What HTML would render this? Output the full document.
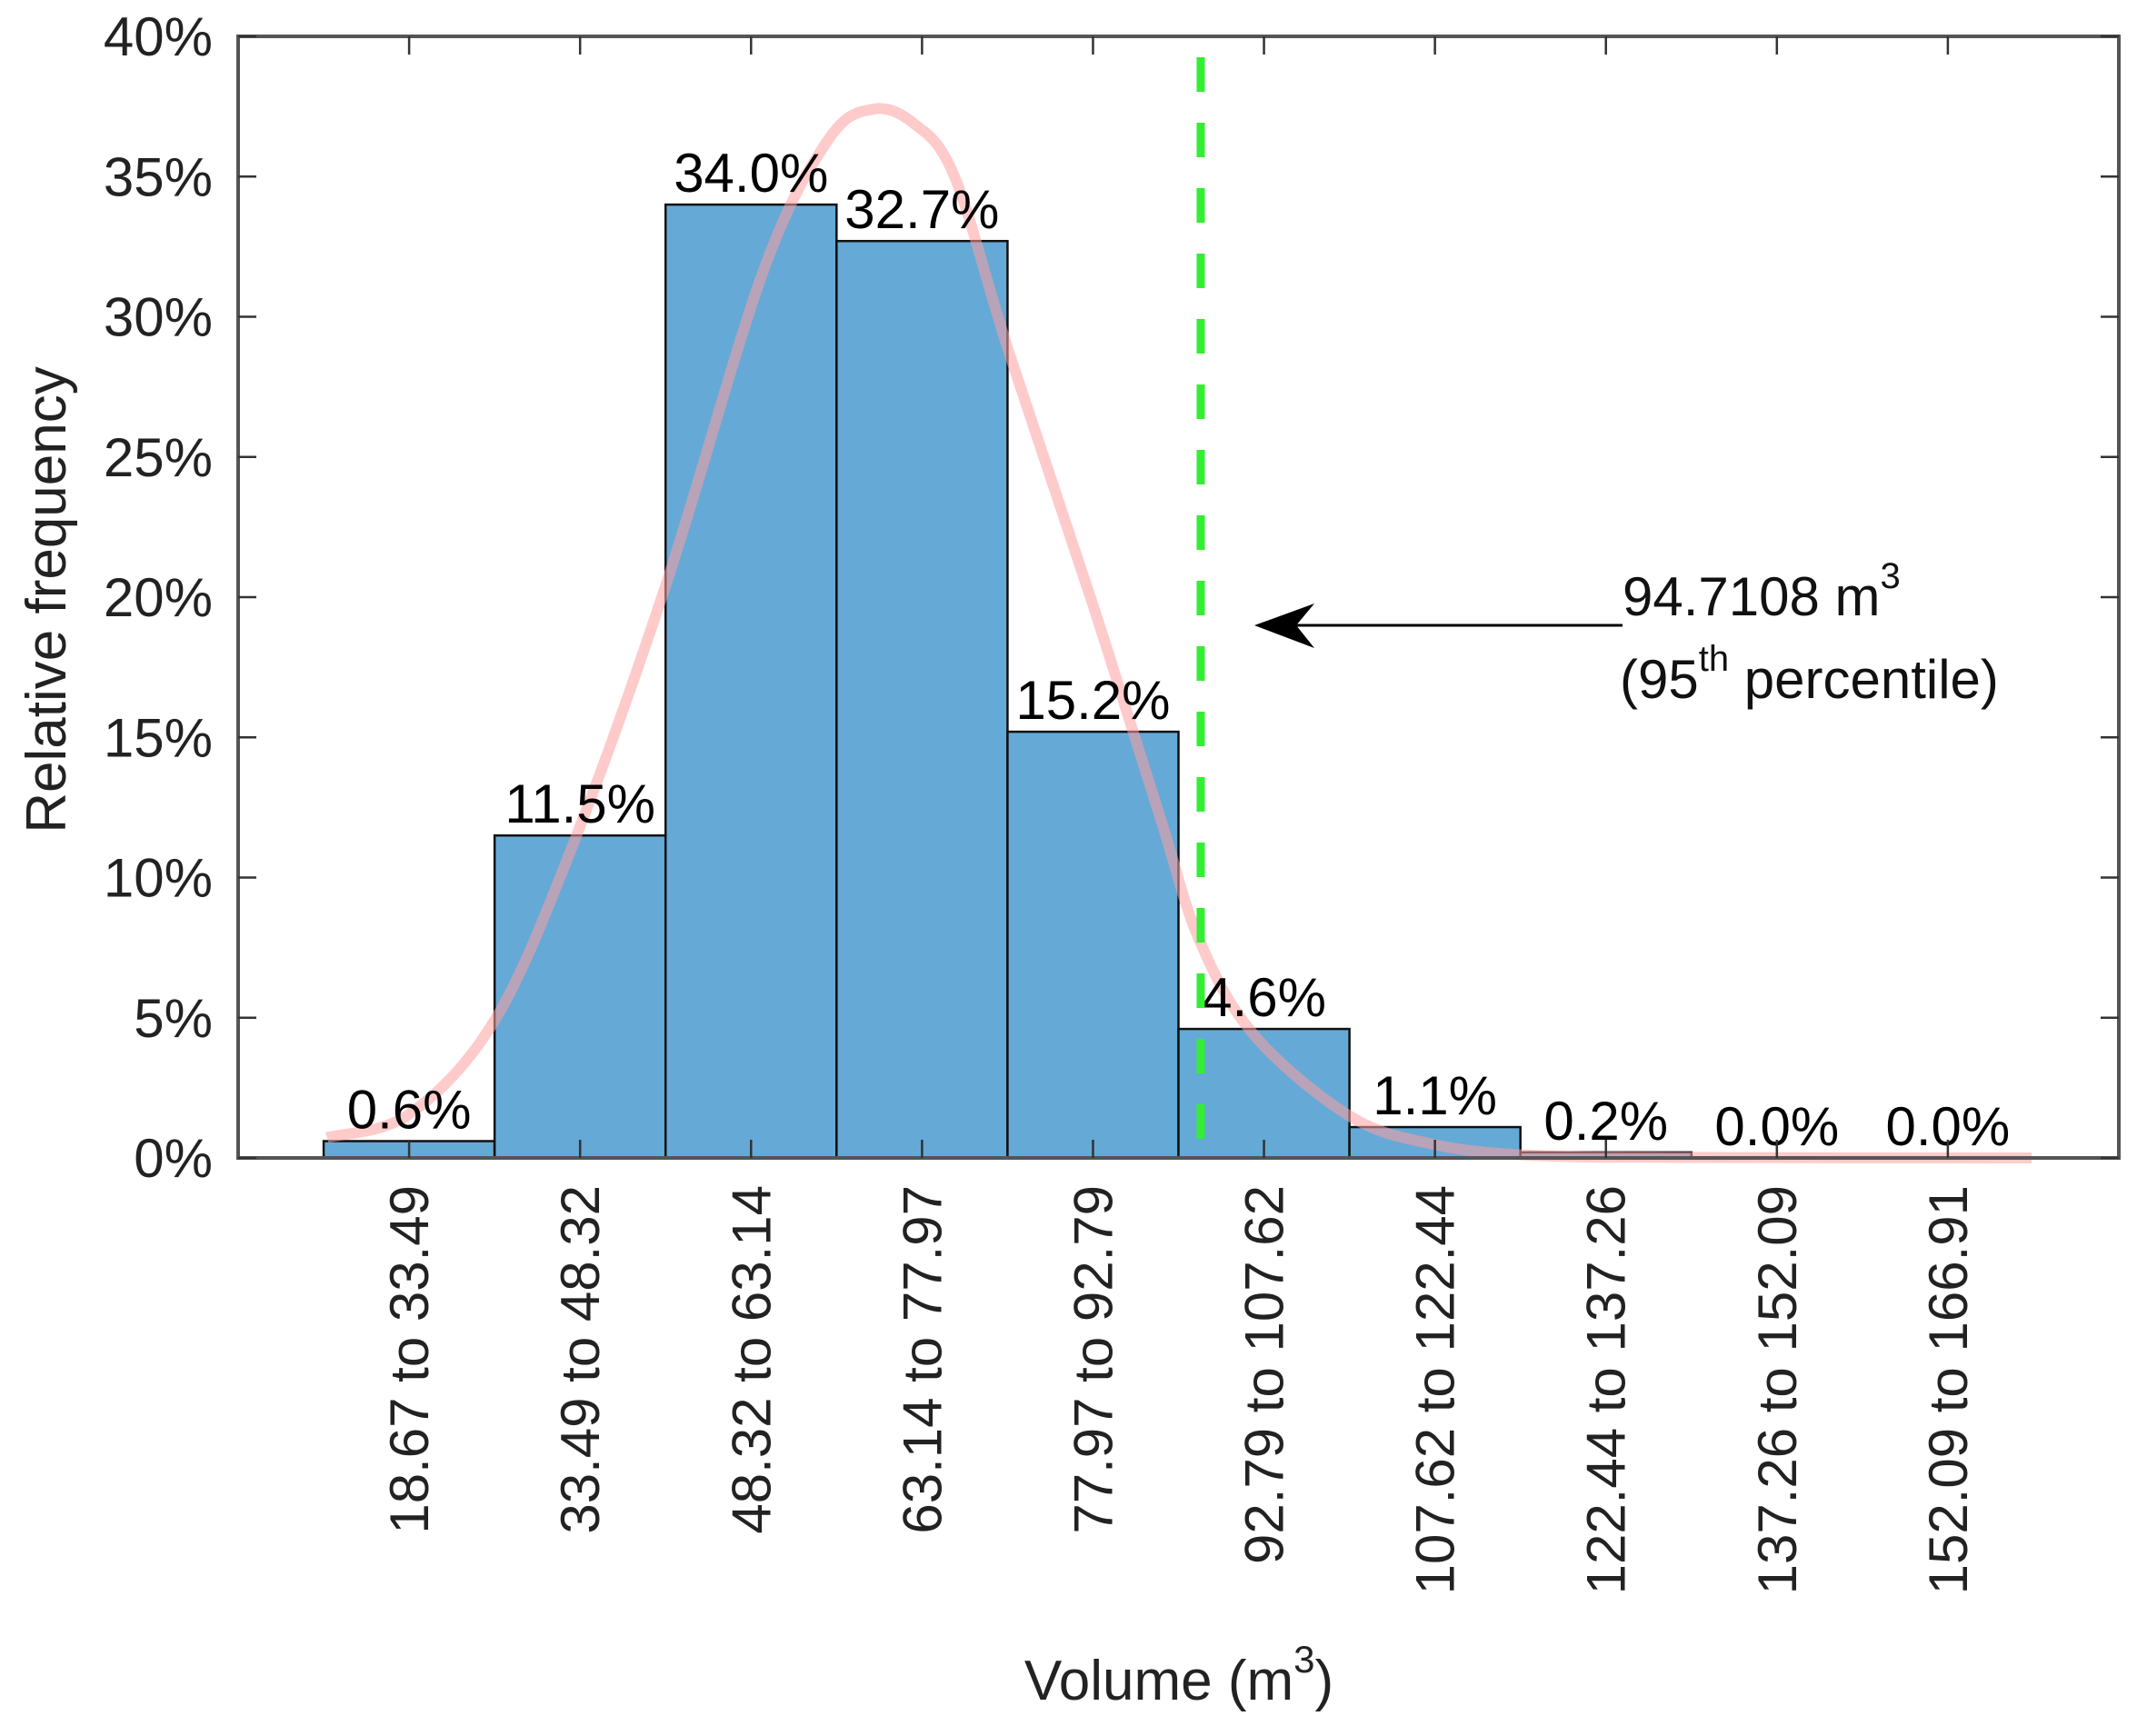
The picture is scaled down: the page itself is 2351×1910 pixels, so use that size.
<!DOCTYPE html>
<html><head><meta charset="utf-8"><style>
html,body{margin:0;padding:0;background:#fff;}
svg{display:block;font-family:"Liberation Sans",Arial,sans-serif;}
</style></head><body>
<svg id="chart" width="2351" height="1910" viewBox="0 0 2351 1910" xmlns="http://www.w3.org/2000/svg">
<g id="curve-layer"></g>
</svg>
<script>
const categories = ["18.67 to 33.49","33.49 to 48.32","48.32 to 63.14","63.14 to 77.97","77.97 to 92.79","92.79 to 107.62","107.62 to 122.44","122.44 to 137.26","137.26 to 152.09","152.09 to 166.91"];
const values = [0.6, 11.5, 34.0, 32.7, 15.2, 4.6, 1.1, 0.2, 0.0, 0.0];
const valueLabels = ["0.6%","11.5%","34.0%","32.7%","15.2%","4.6%","1.1%","0.2%","0.0%","0.0%"];
const yTicks = [0,5,10,15,20,25,30,35,40];
const curveX = [0.52,1.0,1.5,1.96,2.5,3.07,3.45,3.71,3.95,4.19,4.51,4.99,5.39,5.62,5.94,6.5,6.98,7.54,8.5,10.49];
const curveY = [0.73,1.56,4.9,11.2,20.4,31.6,36.3,37.4,36.9,35.0,28.7,19.9,12.2,7.8,4.4,1.5,0.5,0.1,0.02,0];
const percentileX = 5.63;

const L=262,R=2331,T=40,B=1274;
const xMin=0,xMax=11,yMin=0,yMax=40;
const sx=v=>L+(v-xMin)/(xMax-xMin)*(R-L);
const sy=v=>B-(v-yMin)/(yMax-yMin)*(B-T);
const NS="http://www.w3.org/2000/svg";
const svg=document.getElementById('chart');
function mk(tag,attrs,parent){const e=document.createElementNS(NS,tag);for(const k in attrs)e.setAttribute(k,attrs[k]);(parent||svg).appendChild(e);return e;}
const curveLayer=document.getElementById('curve-layer');

// bars
const bw=sx(1)-sx(0);
values.forEach((v,i)=>{
  const r=mk('rect',{x:sx(i+1)-bw/2,y:sy(v),width:bw,height:Math.max(sy(0)-sy(v),0.5),fill:'#65a9d7',stroke:'#111','stroke-width':2.5});
  
  
});
svg.appendChild(curveLayer);
// curve (Catmull-Rom smoothing)
const pts=curveX.map((x,i)=>[sx(x),sy(curveY[i])]);
let d='M'+pts[0][0].toFixed(1)+' '+pts[0][1].toFixed(1);
for(let i=0;i<pts.length-1;i++){
  const p0=pts[Math.max(i-1,0)],p1=pts[i],p2=pts[i+1],p3=pts[Math.min(i+2,pts.length-1)];
  const c1=[p1[0]+(p2[0]-p0[0])/6,p1[1]+(p2[1]-p0[1])/6];
  const c2=[p2[0]-(p3[0]-p1[0])/6,p2[1]-(p3[1]-p1[1])/6];
  d+=`C${c1[0].toFixed(1)} ${c1[1].toFixed(1)} ${c2[0].toFixed(1)} ${c2[1].toFixed(1)} ${p2[0].toFixed(1)} ${p2[1].toFixed(1)}`;
}
const c=mk('path',{d:d,fill:'none',stroke:'#ff9e9e','stroke-opacity':0.55,'stroke-width':12,'stroke-linejoin':'round'},curveLayer);



// value labels
values.forEach((v,i)=>{
  const t=mk('text',{x:sx(i+1),y:sy(v)-14,'font-size':60,'text-anchor':'middle',fill:'#000'});
  t.textContent=valueLabels[i];
  
  
});

// percentile line
const pl=mk('line',{x1:sx(percentileX),x2:sx(percentileX),y1:63,y2:B,stroke:'#33ee33','stroke-width':9,'stroke-dasharray':'38 34'});



// axes box
const box=mk('rect',{x:L,y:T,width:R-L,height:B-T,fill:'none',stroke:'#555','stroke-width':4});



// y ticks
yTicks.forEach(v=>{
  const y=sy(v);
  const tk=mk('path',{d:`M${L} ${y}H${L+20}M${R} ${y}H${R-20}`,stroke:'#333','stroke-width':2.5});
  
  
  const t=mk('text',{x:234,y:y+21,'font-size':60,'text-anchor':'end',fill:'#222'});
  t.textContent=v+'%';
  
  
});
// x ticks
categories.forEach((c,i)=>{
  const x=sx(i+1);
  const tk=mk('path',{d:`M${x} ${B}V${B-20}M${x} ${T}V${T+20}`,stroke:'#333','stroke-width':2.5});
  
  
  const t=mk('text',{x:0,y:0,'font-size':60,'text-anchor':'end',fill:'#222',transform:`translate(${x+21},${B+30}) rotate(-90)`});
  t.textContent=c;
  
  
});

// arrow annotation
const ar=mk('line',{x1:1785,y1:688,x2:1400,y2:688,stroke:'#000','stroke-width':3});


const ah=mk('path',{d:'M1380 688 L1446 664 L1426 688 L1446 713 Z',fill:'#000'});


</script>
<svg style="position:absolute;left:0;top:0" width="2351" height="1910" xmlns="http://www.w3.org/2000/svg" font-family="Liberation Sans, Arial, sans-serif">
<text x="1785" y="677" font-size="60" fill="#111">94.7108 m<tspan dy="-30" font-size="40">3</tspan></text>
<text x="1782" y="768" font-size="60" fill="#111">(95<tspan dy="-30" font-size="40">th</tspan><tspan dy="30"> percentile)</tspan></text>
<text transform="translate(72,660) rotate(-90)" text-anchor="middle" font-size="62" fill="#222">Relative frequency</text>
<text x="1297" y="1870" text-anchor="middle" font-size="62" fill="#222">Volume (m<tspan dy="-30" font-size="42">3</tspan><tspan dy="30">)</tspan></text>
</svg>
</body></html>
